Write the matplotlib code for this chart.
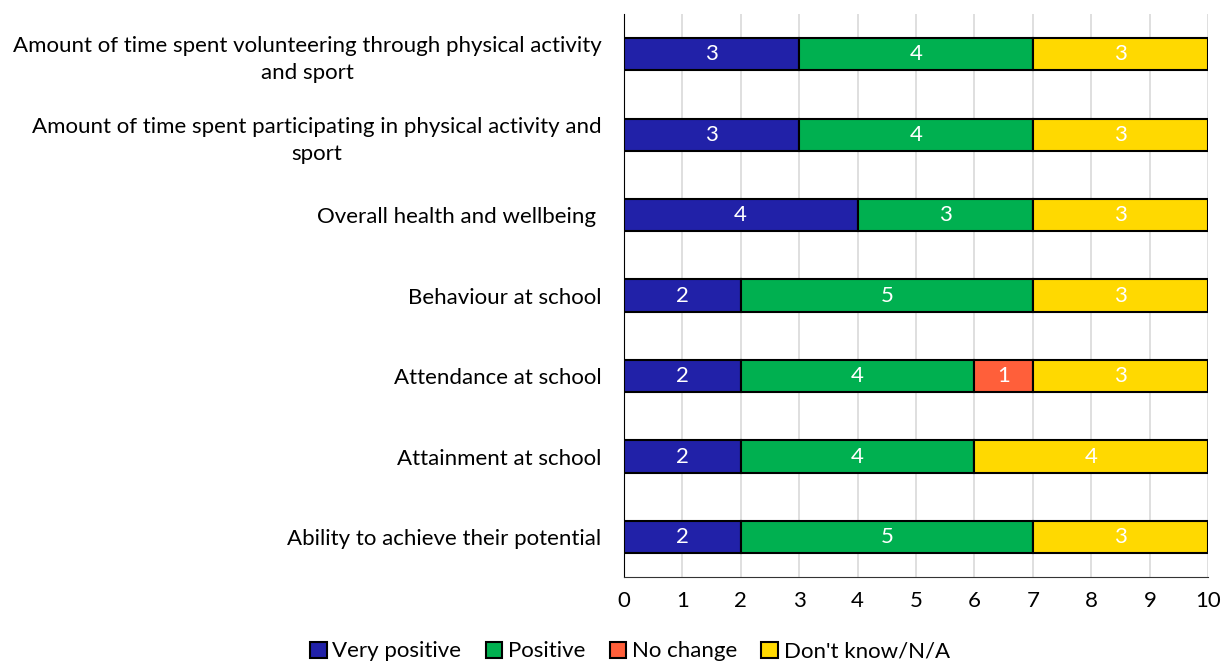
import matplotlib.pyplot as plt
import numpy as np

# === DATOS ===
categorias = [
    "Amount of time spent volunteering through physical activity\nand sport",
    "Amount of time spent participating in physical activity and\nsport",
    "Overall health and wellbeing ",
    "Behaviour at school",
    "Attendance at school",
    "Attainment at school",
    "Ability to achieve their potential",
]
muy_positivo = [3, 3, 4, 2, 2, 2, 2]
positivo = [4, 4, 3, 5, 4, 4, 5]
sin_cambio = [0, 0, 0, 0, 1, 0, 0]
no_sabe = [3, 3, 3, 3, 3, 4, 3]

series = [
    ("Very positive", muy_positivo, "#2121A8"),
    ("Positive", positivo, "#00B050"),
    ("No change", sin_cambio, "#FF5F3A"),
    ("Don't know/N/A", no_sabe, "#FFD900"),
]

plt.rcParams['font.family'] = ['Lato', 'DejaVu Sans']
TAM = 16

fig = plt.figure(figsize=(12.23, 6.62), dpi=100)
ax = fig.add_axes([0.510, 0.128, 0.478, 0.851])

y = np.arange(len(categorias))
izq = np.zeros(len(categorias))
for nombre, valores, color in series:
    valores = np.array(valores, dtype=float)
    barras = ax.barh(y, valores, left=izq, height=0.4, color=color,
                     edgecolor="black", linewidth=1.5, label=nombre, zorder=3)
    for b, v in zip(barras, valores):
        if v > 0:
            ax.text(b.get_x() + b.get_width() / 2, b.get_y() + b.get_height() / 2,
                    f"{int(v)}", ha="center", va="center", color="white",
                    fontsize=TAM, zorder=4)
    izq += valores

ax.set_xlim(0, 10)
ax.set_ylim(6.5, -0.5)
ax.set_xticks(range(0, 11))
ax.set_yticks(y)
ax.set_yticklabels(categorias, fontsize=TAM, ha="right", multialignment="center",
                   linespacing=1.45)
ax.tick_params(axis="x", labelsize=TAM, length=0, pad=10)
ax.tick_params(axis="y", length=0, pad=16)
ax.grid(axis="x", color="#D9D9D9", linewidth=1.2, zorder=0)
for lado in ["top", "right"]:
    ax.spines[lado].set_visible(False)
ax.spines["left"].set_color("black")
ax.spines["bottom"].set_color("#333333")

fig.legend(loc="center", bbox_to_anchor=(0.515, 0.016), ncol=4,
           frameon=False, fontsize=TAM, handlelength=0.75, handleheight=0.75,
           handletextpad=0.25, columnspacing=1.1, borderaxespad=0, borderpad=0)

fig.savefig("out.png", dpi=100)
